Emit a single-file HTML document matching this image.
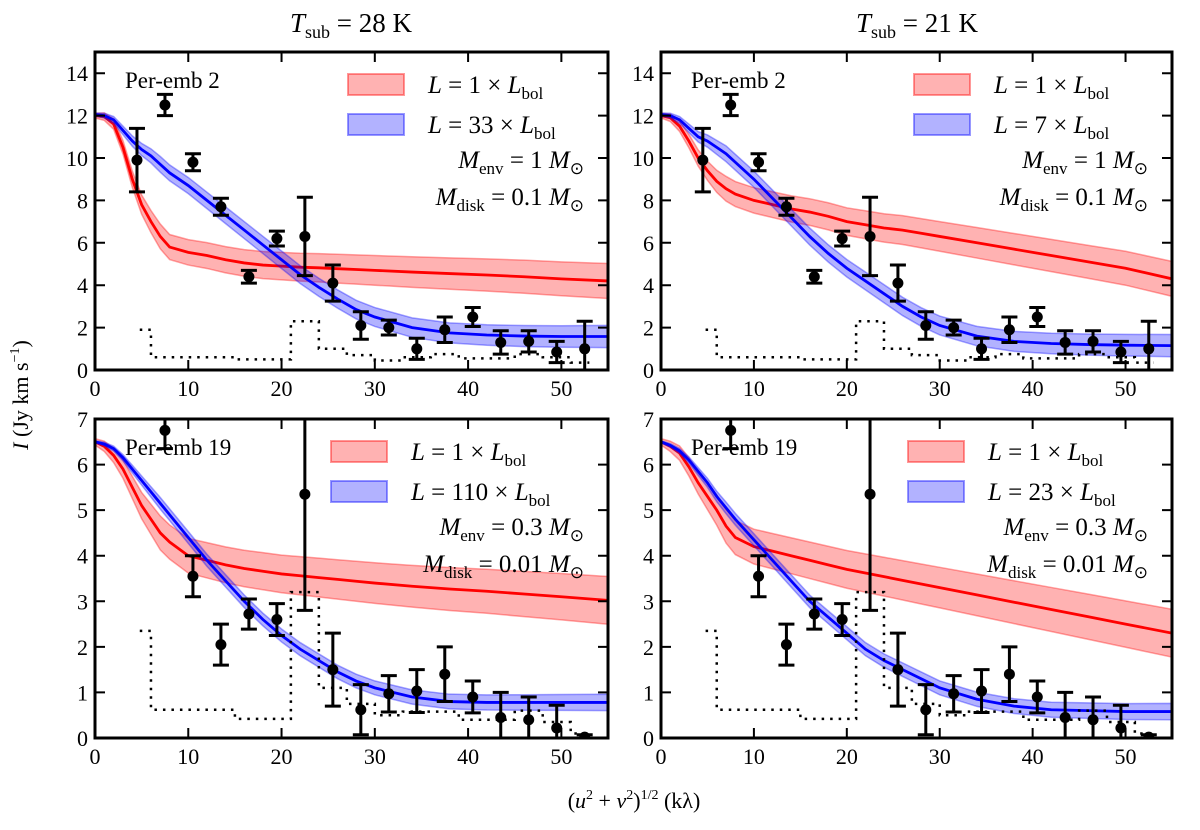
<!DOCTYPE html>
<html><head><meta charset="utf-8"><style>
body{margin:0;background:#fff;}
svg{font-family:"Liberation Serif",serif;}
</style></head><body>
<svg id="fig" width="1200" height="825" viewBox="0 0 1200 825" xmlns="http://www.w3.org/2000/svg">
<text x="351" y="32" font-size="27" text-anchor="middle"><tspan font-style="italic">T</tspan><tspan font-size="18" dy="6">sub</tspan><tspan dy="-6"> = 28 K</tspan></text>
<text x="917" y="32" font-size="27" text-anchor="middle"><tspan font-style="italic">T</tspan><tspan font-size="18" dy="6">sub</tspan><tspan dy="-6"> = 21 K</tspan></text>
<text x="634" y="808" font-size="22" text-anchor="middle">(<tspan font-style="italic">u</tspan><tspan font-size="14" dy="-9">2</tspan><tspan dy="9"> + </tspan><tspan font-style="italic">v</tspan><tspan font-size="14" dy="-9">2</tspan><tspan dy="9">)</tspan><tspan font-size="14" dy="-9">1/2</tspan><tspan dy="9"> (kλ)</tspan></text>
<text transform="translate(28,395) rotate(-90)" font-size="22" text-anchor="middle"><tspan font-style="italic">I</tspan> (Jy km s<tspan font-size="14" dy="-9">−1</tspan><tspan dy="9">)</tspan></text>
</svg>
<script>
const xs=[4.5,7.5,10.5,13.5,16.5,19.5,22.5,25.5,28.5,31.5,34.5,37.5,40.5,43.5,46.5,49.5,52.5];
const topY=[9.9,12.5,9.8,7.7,4.4,6.2,6.3,4.1,2.1,2.0,1.0,1.9,2.5,1.3,1.35,0.85,1.0];
const topErr=[1.5,0.5,0.4,0.4,0.3,0.35,1.85,0.85,0.65,0.35,0.5,0.6,0.45,0.55,0.5,0.5,1.3];
const botY=[7.6,6.75,3.55,2.05,2.72,2.6,5.35,1.5,0.62,0.97,1.03,1.4,0.9,0.45,0.4,0.22,0.02];
const botErr=[0.5,0.4,0.45,0.45,0.33,0.35,2.55,0.8,0.55,0.4,0.47,0.6,0.35,0.55,0.5,0.5,0.05];
const mX=[0,1,2,3,4,5,6,7,8,10,12,14,16,18,20,22,24,26,28,30,34,38,42,46,50,55];
const redTL=[12,11.95,11.6,10.5,9.0,7.8,7.0,6.3,5.8,5.55,5.4,5.2,5.05,4.95,4.9,4.85,4.82,4.78,4.74,4.7,4.62,4.55,4.48,4.4,4.3,4.2];
const blueTL=[12.05,12.0,11.8,11.3,10.8,10.4,10.1,9.7,9.3,8.7,8.0,7.3,6.6,5.9,5.2,4.5,3.9,3.35,2.85,2.5,2.0,1.75,1.65,1.6,1.58,1.58];
const redTR=[12,11.9,11.5,10.8,10,9.4,8.9,8.55,8.3,8.0,7.8,7.6,7.45,7.25,7.0,6.85,6.7,6.6,6.45,6.3,6.0,5.7,5.4,5.1,4.8,4.3];
const blueTR=[12.05,12.0,11.8,11.4,11,10.8,10.5,10.2,9.8,9.0,8.1,7.2,6.3,5.5,4.8,4.2,3.6,3.0,2.5,2.1,1.6,1.35,1.25,1.2,1.17,1.15];
const redBL=[6.5,6.4,6.2,5.9,5.5,5.1,4.8,4.5,4.3,4.0,3.9,3.8,3.72,3.66,3.6,3.56,3.52,3.48,3.44,3.4,3.33,3.27,3.22,3.16,3.1,3.02];
const blueBL=[6.5,6.45,6.35,6.15,5.9,5.65,5.4,5.15,4.9,4.4,3.9,3.45,3.0,2.6,2.25,1.95,1.7,1.45,1.25,1.1,0.9,0.8,0.78,0.78,0.78,0.78];
const redBR=[6.5,6.4,6.25,5.95,5.6,5.3,5.0,4.65,4.4,4.2,4.1,4.0,3.9,3.8,3.7,3.62,3.54,3.46,3.38,3.3,3.14,2.98,2.82,2.66,2.5,2.3];
const blueBR=[6.5,6.42,6.3,6.1,5.85,5.6,5.3,5.05,4.8,4.35,3.9,3.45,3.0,2.65,2.3,1.95,1.7,1.5,1.3,1.1,0.85,0.7,0.62,0.6,0.58,0.58];
const redBandTop=0.55, blueBandTop=0.35, redBandBot=0.35, blueBandBot=0.12;
const histEdges=[4.8,6,15,21,24,27,30,33,36,39,45,48,51,53];
const histTop=[1.9,0.6,0.5,2.3,1.0,0.7,0.45,0.6,0.75,0.55,0.75,0.6,0.35];
const histBot=[2.35,0.62,0.42,3.2,1.1,0.75,0.5,0.58,0.58,0.4,0.6,0.35,0.1];
const topTicks=[0,2,4,6,8,10,12,14];
const botTicks=[0,1,2,3,4,5,6,7];
const xTicks=[0,10,20,30,40,50];

const svg=document.getElementById('fig');
const NS='http://www.w3.org/2000/svg';
function mk(tag,attrs,parent){const e=document.createElementNS(NS,tag);for(const k in attrs)e.setAttribute(k,attrs[k]);(parent||svg).appendChild(e);return e;}
function bwAt(bw,x){return bw*Math.min(1+x/110,0.2+x/8);}

function panel(id,left,top,w,h,ymax,ticks,pts,errs,red,blue,rb,bb,hist,name,l1,l2,m1,m2,legX){
  const X=v=>left+v/55*w, Y=v=>top+h-v/ymax*h;
  const g=mk('g',{});
  
  
  const cid='clip-'+id;
  const cp=mk('clipPath',{id:cid},g);mk('rect',{x:left,y:top,width:w,height:h},cp);
  const pg=mk('g',{'clip-path':'url(#'+cid+')'},g);
  [[red,rb,'#ff0000','red'],[blue,bb,'#0000ff','blue']].forEach(([arr,bw,col,nm])=>{
    let d='';
    mX.forEach((x,i)=>{d+=(i?'L':'M')+X(x)+','+Y(arr[i]+bwAt(bw,x));});
    for(let i=mX.length-1;i>=0;i--)d+='L'+X(mX[i])+','+Y(arr[i]-bwAt(bw,mX[i]));
    const b=mk('path',{d:d+'Z',fill:col,'fill-opacity':0.3,stroke:col,'stroke-opacity':0.35,'stroke-width':1.5},pg);
    
    
    let l='';mX.forEach((x,i)=>{l+=(i?'L':'M')+X(x)+','+Y(arr[i]);});
    const ln=mk('path',{d:l,fill:'none',stroke:col,'stroke-width':2.8},pg);
    
    
  });
  let hd='M'+X(histEdges[0])+','+Y(hist[0]);
  hist.forEach((v,i)=>{hd+='L'+X(histEdges[i])+','+Y(v)+'L'+X(histEdges[i+1])+','+Y(v);});
  const hp=mk('path',{d:hd,fill:'none',stroke:'#000','stroke-width':2.5,'stroke-dasharray':'2.5,6'},pg);
  
  
  xs.forEach((x,i)=>{
    const gx=X(x),y1=Y(pts[i]+errs[i]),y2=Y(pts[i]-errs[i]);
    const eb=mk('path',{d:`M${gx},${y1}L${gx},${y2}M${gx-8},${y1}L${gx+8},${y1}M${gx-8},${y2}L${gx+8},${y2}`,stroke:'#000','stroke-width':3,fill:'none'},pg);
    
    
    const c=mk('circle',{cx:gx,cy:Y(pts[i]),r:5.5,fill:'#000'},pg);
    
    
  });
  ticks.forEach(t=>{
    const y=Y(t);
    mk('path',{d:`M${left},${y}L${left+10},${y}M${left+w},${y}L${left+w-10},${y}`,stroke:'#000','stroke-width':2},g);
    const tl=mk('text',{x:left-7,y:y+8,'font-size':22,'text-anchor':'end'},g);tl.textContent=t;
    
    
  });
  xTicks.forEach(t=>{
    const x=X(t);
    mk('path',{d:`M${x},${top+h}L${x},${top+h-10}M${x},${top}L${x},${top+10}`,stroke:'#000','stroke-width':2},g);
    const tl=mk('text',{x:x,y:top+h+26,'font-size':22,'text-anchor':'middle'},g);tl.textContent=t;
    
    
  });
  const fr=mk('rect',{x:left,y:top,width:w,height:h,fill:'none',stroke:'#000','stroke-width':3},g);
  
  
  const nt=mk('text',{x:left+30,y:top+36,'font-size':23},g);nt.textContent=name;
  
  
  [[l1,'#ff0000',top+22],[l2,'#0000ff',top+62]].forEach(([txt,col,yy])=>{
    const r=mk('rect',{x:left+legX,y:yy,width:56,height:21,fill:col,'fill-opacity':0.3,stroke:col,'stroke-opacity':0.4,'stroke-width':2},g);
    
    
    const t=mk('text',{x:left+legX+80,y:yy+19,'font-size':25},g);
    t.innerHTML='<tspan font-style="italic">L</tspan> = '+txt+' × <tspan font-style="italic">L</tspan><tspan font-size="17" dy="6">bol</tspan>';
    
    
  });
  [[m1,'env',top+116],[m2,'disk',top+153]].forEach(([txt,sub,yy])=>{
    const t=mk('text',{x:left+w-24,y:yy,'font-size':25,'text-anchor':'end'},g);
    t.innerHTML='<tspan font-style="italic">M</tspan><tspan font-size="17" dy="6">'+sub+'</tspan><tspan dy="-6"> = '+txt+' </tspan><tspan font-style="italic">M</tspan><tspan font-size="17" dy="6">⊙</tspan>';
    
    
  });
}
panel('panel-top-left',95,52,513,318,15,topTicks,topY,topErr,redTL,blueTL,redBandTop,blueBandTop,histTop,'Per-emb 2','1','33','1','0.1',253);
panel('panel-top-right',661,52,511,318,15,topTicks,topY,topErr,redTR,blueTR,redBandTop,blueBandTop,histTop,'Per-emb 2','1','7','1','0.1',253);
panel('panel-bottom-left',95,419,513,319,7,botTicks,botY,botErr,redBL,blueBL,redBandBot,blueBandBot,histBot,'Per-emb 19','1','110','0.3','0.01',236);
panel('panel-bottom-right',661,419,511,319,7,botTicks,botY,botErr,redBR,blueBR,redBandBot,blueBandBot,histBot,'Per-emb 19','1','23','0.3','0.01',247);
</script>
</body></html>
